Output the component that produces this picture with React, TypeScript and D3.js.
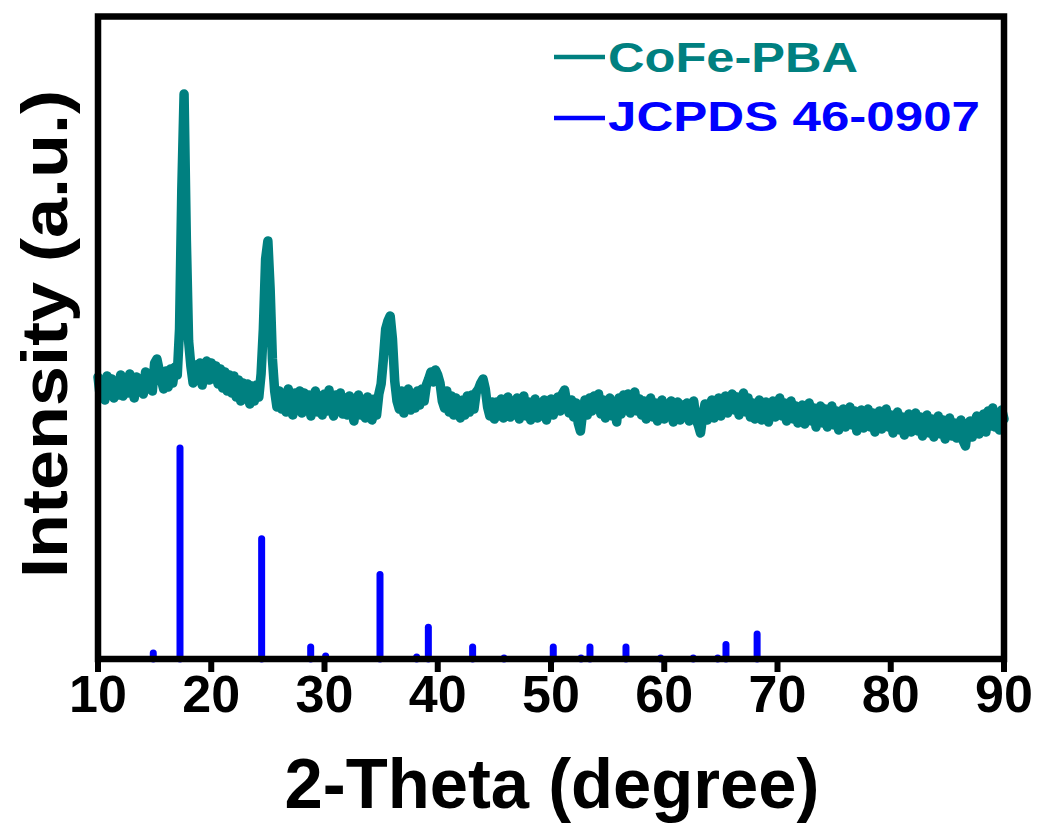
import React from 'react';
import * as d3 from 'd3';

const width = 1040;
const height = 827;

// measured pattern, 2-theta from 10 to 90 every 0.2 degree
const scanStart = 10;
const scanStep = 0.2;
const cofeIntensity = [
  282, 262, 277, 259, 283, 268, 280, 261, 276, 264,
  284, 263, 279, 266, 285, 270, 261, 282, 268, 277,
  265, 287, 270, 284, 268, 296, 300, 289, 279, 270,
  288, 272, 290, 276, 292, 284, 330, 470, 565, 420,
  318, 293, 276, 294, 279, 296, 274, 291, 298, 279,
  296, 280, 293, 275, 290, 271, 287, 268, 284, 266,
  283, 262, 279, 258, 276, 260, 275, 255, 273, 258,
  274, 262, 285, 330, 400, 418, 370, 300, 268, 252,
  268, 250, 266, 247, 270, 253, 244, 266, 251, 268,
  246, 266, 249, 264, 243, 261, 268, 247, 263, 244,
  265, 248, 269, 251, 243, 264, 249, 266, 245, 261,
  244, 263, 248, 238, 260, 264, 244, 259, 241, 262,
  245, 239, 260, 244, 265, 275, 300, 330, 338, 343,
  320, 278, 258, 250, 268, 246, 263, 270, 249, 265,
  251, 268, 254, 270, 258, 274, 280, 287, 277, 289,
  284, 276, 258, 251, 268, 247, 263, 244, 261, 246,
  241, 259, 244, 263, 247, 264, 250, 267, 270, 276,
  280, 270, 252, 243, 257, 240, 257, 243, 260, 241,
  256, 262, 242, 258, 244, 261, 240, 255, 263, 243,
  257, 239, 254, 260, 241, 256, 243, 259, 239, 254,
  260, 244, 258, 262, 248, 265, 269, 255, 246, 259,
  242, 256, 236, 228, 247, 259, 244, 261, 248, 263,
  250, 265, 245, 259, 241, 256, 261, 243, 256, 237,
  261, 245, 264, 250, 265, 246, 262, 267, 248, 260,
  244, 258, 240, 255, 261, 242, 256, 238, 253, 259,
  240, 255, 243, 258, 237, 252, 257, 239, 254, 242,
  256, 238, 252, 258, 240, 234, 226, 243, 255, 239,
  253, 259, 241, 255, 261, 243, 257, 263, 246, 260,
  265, 249, 262, 244, 259, 266, 247, 261, 242, 256,
  240, 254, 259, 239, 252, 257, 237, 253, 258, 242,
  255, 261, 243, 256, 238, 252, 258, 240, 253, 236,
  249, 254, 235, 250, 256, 238, 251, 232, 248, 253,
  236, 250, 232, 247, 253, 234, 248, 229, 244, 250,
  232, 247, 252, 234, 248, 228, 243, 249, 231, 245,
  250, 232, 246, 227, 242, 248, 230, 244, 250, 232,
  244, 226, 240, 247, 229, 242, 224, 239, 245, 227,
  241, 246, 228, 242, 223, 238, 244, 226, 240, 222,
  237, 243, 225, 239, 220, 235, 241, 223, 236, 221,
  233, 239, 218, 213, 232, 238, 222, 236, 243, 225,
  239, 245, 227, 248, 233, 251, 232, 246, 229, 249,
  240,
];

// JCPDS 46-0907 reference lines
const refAngles = [14.88, 17.24, 24.45, 28.78, 30.1, 34.9, 38.14, 39.17, 43.08, 45.85, 50.2, 52.65, 53.44, 56.62, 59.68, 62.56, 64.72, 65.45, 68.2];
const refIntensity = [2.8, 100, 57, 5.7, 1.4, 40, 1, 15, 5.7, 0.5, 5.7, 0.5, 5.7, 5.7, 0.5, 0.5, 0.5, 6.9, 11.8];

const xTicks = [10, 20, 30, 40, 50, 60, 70, 80, 90];

const teal = '#008080';
const blue = '#0000ff';
const font = '"Liberation Sans", Arial, Helvetica, sans-serif';

export default function App() {
  const left = 98, right = 1004, top = 16.5, bottom = 659;

  const x = d3.scaleLinear().domain([10, 90]).range([left, right]);
  const y = d3.scaleLinear().domain([0, 642.5]).range([bottom, top]);
  const yRef = d3.scaleLinear().domain([0, 100]).range([bottom, bottom - 211]);

  const pts = cofeIntensity.map((v, i) => [scanStart + i * scanStep, v] as [number, number]);
  const line = d3.line<[number, number]>().x(d => x(d[0])).y(d => y(d[1]));

  return (
    <svg width={width} height={height} style={{ position: 'absolute', left: 0, top: 0, background: '#fff' }}>
      <path d={line(pts) || ''} fill="none" stroke={teal} strokeWidth={9.5}
        strokeLinejoin="round" strokeLinecap="round" />

      {refAngles.map((a, i) => (
        <line key={i} x1={x(a)} x2={x(a)} y1={bottom} y2={yRef(refIntensity[i])}
          stroke={blue} strokeWidth={7} strokeLinecap="round" />
      ))}

      <rect x={left} y={top} width={right - left} height={bottom - top}
        fill="none" stroke="#000" strokeWidth={6.5} />

      {xTicks.map(t => (
        <g key={t}>
          <line x1={x(t)} x2={x(t)} y1={bottom} y2={bottom + 13} stroke="#000" strokeWidth={6} />
          <text x={x(t)} y={712} textAnchor="middle" fontFamily={font} fontWeight="bold" fontSize={52}>{t}</text>
        </g>
      ))}

      <text x={552} y={808} textAnchor="middle" fontFamily={font} fontWeight="bold" fontSize={70}
        textLength={535} lengthAdjust="spacingAndGlyphs">2-Theta (degree)</text>

      <text transform={`translate(67, 334) rotate(-90)`} textAnchor="middle" fontFamily={font}
        fontWeight="bold" fontSize={64} textLength={488} lengthAdjust="spacingAndGlyphs">Intensity (a.u.)</text>

      <line x1={554} x2={605} y1={57} y2={57} stroke={teal} strokeWidth={4.5} />
      <text x={608} y={72} fontFamily={font} fontWeight="bold" fontSize={43} fill={teal}
        textLength={250} lengthAdjust="spacingAndGlyphs">CoFe-PBA</text>
      <line x1={554} x2={605} y1={118} y2={118} stroke={blue} strokeWidth={4.5} />
      <text x={608} y={131} fontFamily={font} fontWeight="bold" fontSize={43} fill={blue}
        textLength={372} lengthAdjust="spacingAndGlyphs">JCPDS 46-0907</text>
    </svg>
  );
}
